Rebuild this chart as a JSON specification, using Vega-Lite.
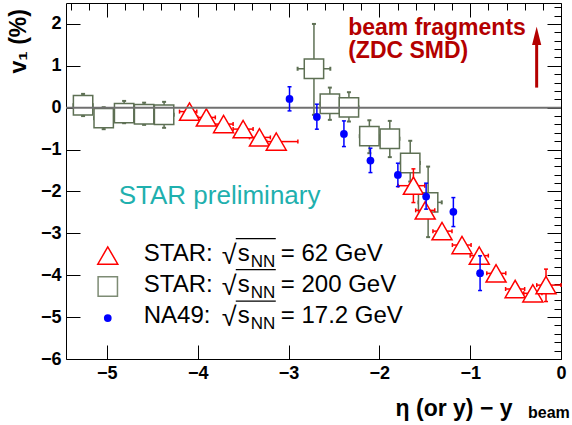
{
  "$schema": "https://vega.github.io/schema/vega-lite/v6.json",
  "width": 495,
  "height": 356,
  "autosize": {"type": "none"},
  "padding": {"left": 66, "top": 3, "right": 11, "bottom": 66},
  "background": "white",
  "config": {
    "view": {"stroke": "black", "strokeWidth": 1},
    "font": "Liberation Sans",
    "text": {"font": "Liberation Sans"},
    "axis": {
      "grid": false,
      "domain": false,
      "tickColor": "black",
      "tickWidth": 1,
      "labelFont": "Liberation Sans",
      "labelFontSize": 18,
      "labelFontWeight": "bold",
      "labelColor": "black",
      "labelOverlap": false,
      "labelFlush": false,
      "titleFont": "Liberation Sans",
      "titleColor": "black"
    }
  },
  "datasets": {
    "s200": [
      {"x": -5.262, "y": 0.06, "ylo": -0.2, "yhi": 0.33, "xlo": -5.368, "xhi": -5.156},
      {"x": -5.035, "y": -0.25, "ylo": -0.513, "yhi": 0.012, "xlo": -5.141, "xhi": -4.929},
      {"x": -4.81, "y": -0.13, "ylo": -0.37, "yhi": 0.162, "xlo": -4.916, "xhi": -4.704},
      {"x": -4.59, "y": -0.155, "ylo": -0.41, "yhi": 0.12, "xlo": -4.696, "xhi": -4.484},
      {"x": -4.37, "y": -0.167, "ylo": -0.48, "yhi": 0.14, "xlo": -4.476, "xhi": -4.264},
      {"x": -2.72, "y": 0.93, "ylo": -0.17, "yhi": 2.0, "xlo": -2.9, "xhi": -2.54},
      {"x": -2.545, "y": 0.095, "ylo": -0.29, "yhi": 0.48, "xlo": -2.651, "xhi": -2.439},
      {"x": -2.335, "y": 0.007, "ylo": -0.33, "yhi": 0.37, "xlo": -2.441, "xhi": -2.229},
      {"x": -2.11, "y": -0.68, "ylo": -1.086, "yhi": -0.3, "xlo": -2.216, "xhi": -2.004},
      {"x": -1.885, "y": -0.74, "ylo": -1.18, "yhi": -0.315, "xlo": -1.991, "xhi": -1.779},
      {"x": -1.66, "y": -1.32, "ylo": -1.764, "yhi": -0.79, "xlo": -1.766, "xhi": -1.554},
      {"x": -1.463, "y": -2.26, "ylo": -3.09, "yhi": -1.406, "xlo": -1.569, "xhi": -1.313}
    ],
    "s62": [
      {"x": -4.09, "y": -0.093, "xlo": -4.2, "xhi": -4.01},
      {"x": -3.905, "y": -0.232, "xlo": -4.0, "xhi": -3.806},
      {"x": -3.715, "y": -0.391, "xlo": -3.82, "xhi": -3.61},
      {"x": -3.5, "y": -0.511, "xlo": -3.61, "xhi": -3.39},
      {"x": -3.32, "y": -0.709, "xlo": -3.43, "xhi": -3.2},
      {"x": -3.135, "y": -0.809, "xlo": -3.24, "xhi": -2.897},
      {"x": -1.625, "y": -1.862, "xlo": -1.793, "xhi": -1.5, "ylo": -2.265, "yhi": -1.46},
      {"x": -1.495, "y": -2.451, "xlo": -1.6, "xhi": -1.39},
      {"x": -1.31, "y": -2.947, "xlo": -1.41, "xhi": -1.2},
      {"x": -1.09, "y": -3.279, "xlo": -1.196, "xhi": -0.99},
      {"x": -0.9, "y": -3.532, "xlo": -1.0, "xhi": -0.8},
      {"x": -0.715, "y": -3.955, "xlo": -0.817, "xhi": -0.608},
      {"x": -0.505, "y": -4.329, "xlo": -0.61, "xhi": -0.4},
      {"x": -0.31, "y": -4.432, "xlo": -0.41, "xhi": -0.21},
      {"x": -0.165, "y": -4.236, "xlo": -0.267, "xhi": 0.0, "ylo": -4.628, "yhi": -3.854}
    ],
    "na49": [
      {"x": -2.989, "y": 0.21, "ylo": -0.076, "yhi": 0.5},
      {"x": -2.688, "y": -0.22, "ylo": -0.513, "yhi": 0.084},
      {"x": -2.39, "y": -0.625, "ylo": -0.928, "yhi": -0.315},
      {"x": -2.098, "y": -1.263, "ylo": -1.549, "yhi": -0.967},
      {"x": -1.796, "y": -1.604, "ylo": -1.883, "yhi": -1.325},
      {"x": -1.485, "y": -2.122, "ylo": -2.422, "yhi": -1.802},
      {"x": -1.185, "y": -2.487, "ylo": -2.838, "yhi": -2.146},
      {"x": -0.891, "y": -3.95, "ylo": -4.365, "yhi": -3.537}
    ],
    "leg": [
      {"series": "62", "label": "STAR:", "energy": "= 62 GeV", "x": -4.99, "y": -3.53},
      {"series": "200", "label": "STAR:", "energy": "= 200 GeV", "x": -4.99, "y": -4.27},
      {"series": "na49", "label": "NA49:", "energy": "= 17.2 GeV", "x": -4.99, "y": -5.024}
    ]
  },
  "layer": [
    {
      "data": {"name": "s200"},
      "mark": {"type": "errorbar", "color": "#5e7054", "rule": {"strokeWidth": 1.5}, "ticks": {"size": 4, "thickness": 2, "opacity": 1}},
      "encoding": {
        "x": {"field": "x", "type": "quantitative", "scale": {"domain": [-5.45, 0], "nice": false, "zero": false}, "axis": null},
        "y": {"field": "ylo", "type": "quantitative", "scale": {"domain": [-6, 2.5], "nice": false, "zero": false}, "axis": null},
        "y2": {"field": "yhi"}
      }
    },
    {
      "data": {"name": "s200"},
      "mark": {"type": "errorbar", "color": "#5e7054", "rule": {"strokeWidth": 1.5}, "ticks": {"size": 4, "thickness": 2, "opacity": 1}},
      "encoding": {
        "y": {"field": "y", "type": "quantitative", "scale": {"domain": [-6, 2.5], "nice": false, "zero": false}, "axis": null},
        "x": {"field": "xlo", "type": "quantitative", "scale": {"domain": [-5.45, 0], "nice": false, "zero": false}, "axis": null},
        "x2": {"field": "xhi"}
      }
    },
    {
      "data": {"name": "s200"},
      "mark": {"type": "point", "shape": "square", "size": 375, "fill": "white", "stroke": "#5e7054", "strokeWidth": 1.5, "opacity": 1},
      "encoding": {
        "x": {
          "field": "x", "type": "quantitative", "scale": {"domain": [-5.45, 0], "nice": false, "zero": false},
          "axis": {
            "orient": "bottom",
            "tickCount": 30,
            "offset": -14,
            "tickSize": 14,
            "format": "d",
            "tickDash": {"condition": {"test": "abs(datum.value - round(datum.value)) < 0.001", "value": [20, 0]}, "value": [0, 7, 7, 100]},
            "labelExpr": "abs(datum.value - round(datum.value)) < 0.001 ? datum.label : ''",
            "labelPadding": 5,
            "title": "η (or y) − y",
            "titleFontSize": 23,
            "titleFontWeight": "bold",
            "titleAlign": "right",
            "titleBaseline": "alphabetic",
            "titleX": 446,
            "titleY": 70
          }
        },
        "y": {
          "field": "y", "type": "quantitative", "scale": {"domain": [-6, 2.5], "nice": false, "zero": false},
          "axis": {
            "orient": "left",
            "tickCount": 45,
            "offset": -14,
            "tickSize": 14,
            "format": "d",
            "tickDash": {"condition": {"test": "abs(datum.value - round(datum.value)) < 0.001", "value": [20, 0]}, "value": [0, 7, 7, 100]},
            "labelExpr": "abs(datum.value - round(datum.value)) < 0.001 ? datum.label : ''",
            "labelPadding": 5,
            "title": "v₁ (%)",
            "titleFontSize": 23,
            "titleFontWeight": "bold",
            "titleAngle": 270,
            "titleAlign": "left",
            "titleBaseline": "alphabetic",
            "titleX": -55,
            "titleY": 70
          }
        }
      }
    },
    {
      "data": {"name": "s62"},
      "mark": {"type": "errorbar", "color": "#ff0000", "rule": {"strokeWidth": 1.5}, "ticks": {"size": 4, "thickness": 1.5, "opacity": 1}},
      "encoding": {
        "y": {"field": "y", "type": "quantitative", "scale": {"domain": [-6, 2.5], "nice": false, "zero": false}, "axis": null},
        "x": {"field": "xlo", "type": "quantitative", "scale": {"domain": [-5.45, 0], "nice": false, "zero": false}, "axis": null},
        "x2": {"field": "xhi"}
      }
    },
    {
      "data": {"name": "s62"},
      "transform": [{"filter": "isValid(datum.ylo)"}],
      "mark": {"type": "errorbar", "color": "#ff0000", "rule": {"strokeWidth": 1.5}, "ticks": {"size": 4, "thickness": 1.5, "opacity": 1}},
      "encoding": {
        "x": {"field": "x", "type": "quantitative", "scale": {"domain": [-5.45, 0], "nice": false, "zero": false}, "axis": null},
        "y": {"field": "ylo", "type": "quantitative", "scale": {"domain": [-6, 2.5], "nice": false, "zero": false}, "axis": null},
        "y2": {"field": "yhi"}
      }
    },
    {
      "data": {"name": "s62"},
      "mark": {"type": "point", "shape": "triangle-up", "size": 400, "fill": "white", "stroke": "#ff0000", "strokeWidth": 1.5, "opacity": 1},
      "encoding": {
        "x": {
          "field": "x", "type": "quantitative", "scale": {"domain": [-5.45, 0], "nice": false, "zero": false},
          "axis": {
            "orient": "top",
            "tickCount": 30,
            "offset": -14,
            "tickSize": 14,
            "tickDash": {"condition": {"test": "abs(datum.value - round(datum.value)) < 0.001", "value": [20, 0]}, "value": [0, 7, 7, 100]},
            "labels": false,
            "title": null
          }
        },
        "y": {
          "field": "y", "type": "quantitative", "scale": {"domain": [-6, 2.5], "nice": false, "zero": false},
          "axis": {
            "orient": "right",
            "tickCount": 45,
            "offset": -14,
            "tickSize": 14,
            "tickDash": {"condition": {"test": "abs(datum.value - round(datum.value)) < 0.001", "value": [20, 0]}, "value": [0, 7, 7, 100]},
            "labels": false,
            "title": null
          }
        }
      }
    },
    {
      "data": {"values": [{}]},
      "mark": {"type": "rule", "color": "#707070", "strokeWidth": 2},
      "encoding": {
        "y": {"datum": 0, "type": "quantitative", "scale": {"domain": [-6, 2.5], "nice": false, "zero": false}, "axis": null}
      }
    },
    {
      "data": {"name": "na49"},
      "mark": {"type": "errorbar", "color": "#0000ff", "rule": {"strokeWidth": 1.5}, "ticks": {"size": 4, "thickness": 1.5, "opacity": 1}},
      "encoding": {
        "x": {"field": "x", "type": "quantitative", "scale": {"domain": [-5.45, 0], "nice": false, "zero": false}, "axis": null},
        "y": {"field": "ylo", "type": "quantitative", "scale": {"domain": [-6, 2.5], "nice": false, "zero": false}, "axis": null},
        "y2": {"field": "yhi"}
      }
    },
    {
      "data": {"name": "na49"},
      "mark": {"type": "point", "shape": "circle", "size": 60, "filled": true, "color": "#0000ff", "opacity": 1},
      "encoding": {
        "x": {"field": "x", "type": "quantitative", "scale": {"domain": [-5.45, 0], "nice": false, "zero": false}, "axis": null},
        "y": {"field": "y", "type": "quantitative", "scale": {"domain": [-6, 2.5], "nice": false, "zero": false}, "axis": null}
      }
    },
    {
      "data": {"name": "leg"},
      "transform": [{"filter": "datum.series == '62'"}],
      "mark": {"type": "point", "shape": "triangle-up", "size": 400, "fill": "white", "stroke": "#ff0000", "strokeWidth": 1.5, "opacity": 1},
      "encoding": {
        "x": {"field": "x", "type": "quantitative", "scale": {"domain": [-5.45, 0], "nice": false, "zero": false}, "axis": null},
        "y": {"field": "y", "type": "quantitative", "scale": {"domain": [-6, 2.5], "nice": false, "zero": false}, "axis": null}
      }
    },
    {
      "data": {"name": "leg"},
      "transform": [{"filter": "datum.series == '200'"}],
      "mark": {"type": "point", "shape": "square", "size": 375, "fill": "white", "stroke": "#7d8b74", "strokeWidth": 1.5, "opacity": 1},
      "encoding": {
        "x": {"field": "x", "type": "quantitative", "scale": {"domain": [-5.45, 0], "nice": false, "zero": false}, "axis": null},
        "y": {"field": "y", "type": "quantitative", "scale": {"domain": [-6, 2.5], "nice": false, "zero": false}, "axis": null}
      }
    },
    {
      "data": {"name": "leg"},
      "transform": [{"filter": "datum.series == 'na49'"}],
      "mark": {"type": "point", "shape": "circle", "size": 60, "filled": true, "color": "#0000ff", "opacity": 1},
      "encoding": {
        "x": {"field": "x", "type": "quantitative", "scale": {"domain": [-5.45, 0], "nice": false, "zero": false}, "axis": null},
        "y": {"field": "y", "type": "quantitative", "scale": {"domain": [-6, 2.5], "nice": false, "zero": false}, "axis": null}
      }
    },
    {
      "data": {"name": "leg"},
      "mark": {"type": "text", "align": "left", "baseline": "alphabetic", "dx": 36, "dy": 5, "fontSize": 24, "color": "black"},
      "encoding": {
        "x": {"field": "x", "type": "quantitative", "scale": {"domain": [-5.45, 0], "nice": false, "zero": false}, "axis": null},
        "y": {"field": "y", "type": "quantitative", "scale": {"domain": [-6, 2.5], "nice": false, "zero": false}, "axis": null},
        "text": {"field": "label"}
      }
    },
    {
      "data": {"name": "leg"},
      "mark": {"type": "text", "align": "left", "baseline": "alphabetic", "dx": 114, "dy": 8, "fontSize": 27, "color": "black", "text": "√"},
      "encoding": {
        "x": {"field": "x", "type": "quantitative", "scale": {"domain": [-5.45, 0], "nice": false, "zero": false}, "axis": null},
        "y": {"field": "y", "type": "quantitative", "scale": {"domain": [-6, 2.5], "nice": false, "zero": false}, "axis": null}
      }
    },
    {
      "data": {"name": "leg"},
      "mark": {"type": "rule", "color": "black", "strokeWidth": 1.2, "xOffset": 128, "x2Offset": 168, "yOffset": -17},
      "encoding": {
        "x": {"field": "x", "type": "quantitative", "scale": {"domain": [-5.45, 0], "nice": false, "zero": false}, "axis": null},
        "x2": {"field": "x"},
        "y": {"field": "y", "type": "quantitative", "scale": {"domain": [-6, 2.5], "nice": false, "zero": false}, "axis": null}
      }
    },
    {
      "data": {"name": "leg"},
      "mark": {"type": "text", "align": "left", "baseline": "alphabetic", "dx": 130, "dy": 5, "fontSize": 24, "color": "black", "text": "s"},
      "encoding": {
        "x": {"field": "x", "type": "quantitative", "scale": {"domain": [-5.45, 0], "nice": false, "zero": false}, "axis": null},
        "y": {"field": "y", "type": "quantitative", "scale": {"domain": [-6, 2.5], "nice": false, "zero": false}, "axis": null}
      }
    },
    {
      "data": {"name": "leg"},
      "mark": {"type": "text", "align": "left", "baseline": "alphabetic", "dx": 143, "dy": 11, "fontSize": 17, "color": "black", "text": "NN"},
      "encoding": {
        "x": {"field": "x", "type": "quantitative", "scale": {"domain": [-5.45, 0], "nice": false, "zero": false}, "axis": null},
        "y": {"field": "y", "type": "quantitative", "scale": {"domain": [-6, 2.5], "nice": false, "zero": false}, "axis": null}
      }
    },
    {
      "data": {"name": "leg"},
      "mark": {"type": "text", "align": "left", "baseline": "alphabetic", "dx": 173, "dy": 5, "fontSize": 24, "color": "black"},
      "encoding": {
        "x": {"field": "x", "type": "quantitative", "scale": {"domain": [-5.45, 0], "nice": false, "zero": false}, "axis": null},
        "y": {"field": "y", "type": "quantitative", "scale": {"domain": [-6, 2.5], "nice": false, "zero": false}, "axis": null},
        "text": {"field": "energy"}
      }
    },
    {
      "data": {"values": [{}]},
      "mark": {"type": "text", "align": "left", "baseline": "alphabetic", "fontSize": 26, "color": "#1fb0ae", "text": "STAR preliminary"},
      "encoding": {
        "x": {"datum": -4.87, "type": "quantitative", "scale": {"domain": [-5.45, 0], "nice": false, "zero": false}, "axis": null},
        "y": {"datum": -2.296, "type": "quantitative", "scale": {"domain": [-6, 2.5], "nice": false, "zero": false}, "axis": null}
      }
    },
    {
      "data": {"values": [{}]},
      "mark": {"type": "text", "align": "left", "baseline": "alphabetic", "fontSize": 23, "fontWeight": "bold", "color": "#b40000", "text": "beam fragments"},
      "encoding": {
        "x": {"datum": -2.343, "type": "quantitative", "scale": {"domain": [-5.45, 0], "nice": false, "zero": false}, "axis": null},
        "y": {"datum": 1.737, "type": "quantitative", "scale": {"domain": [-6, 2.5], "nice": false, "zero": false}, "axis": null}
      }
    },
    {
      "data": {"values": [{}]},
      "mark": {"type": "text", "align": "left", "baseline": "alphabetic", "fontSize": 23, "fontWeight": "bold", "color": "#b40000", "text": "(ZDC SMD)"},
      "encoding": {
        "x": {"datum": -2.343, "type": "quantitative", "scale": {"domain": [-5.45, 0], "nice": false, "zero": false}, "axis": null},
        "y": {"datum": 1.18, "type": "quantitative", "scale": {"domain": [-6, 2.5], "nice": false, "zero": false}, "axis": null}
      }
    },
    {
      "data": {"values": [{}]},
      "mark": {"type": "rule", "color": "#b40000", "strokeWidth": 3},
      "encoding": {
        "x": {"datum": -0.268, "type": "quantitative", "scale": {"domain": [-5.45, 0], "nice": false, "zero": false}, "axis": null},
        "y": {"datum": 0.48, "type": "quantitative", "scale": {"domain": [-6, 2.5], "nice": false, "zero": false}, "axis": null},
        "y2": {"datum": 1.55}
      }
    },
    {
      "data": {"values": [{}]},
      "mark": {"type": "point", "shape": "M0,-1L0.5,1L-0.5,1Z", "size": 335, "filled": true, "color": "#b40000", "opacity": 1},
      "encoding": {
        "x": {"datum": -0.268, "type": "quantitative", "scale": {"domain": [-5.45, 0], "nice": false, "zero": false}, "axis": null},
        "y": {"datum": 1.717, "type": "quantitative", "scale": {"domain": [-6, 2.5], "nice": false, "zero": false}, "axis": null}
      }
    },
    {
      "data": {"values": [{}]},
      "mark": {"type": "text", "align": "left", "baseline": "alphabetic", "dx": -33, "dy": 59, "fontSize": 16, "fontWeight": "bold", "color": "black", "text": "beam"},
      "encoding": {
        "x": {"datum": 0, "type": "quantitative", "scale": {"domain": [-5.45, 0], "nice": false, "zero": false}, "axis": null},
        "y": {"datum": -6, "type": "quantitative", "scale": {"domain": [-6, 2.5], "nice": false, "zero": false}, "axis": null}
      }
    }
  ],
  "resolve": {"axis": {"x": "independent", "y": "independent"}}
}
